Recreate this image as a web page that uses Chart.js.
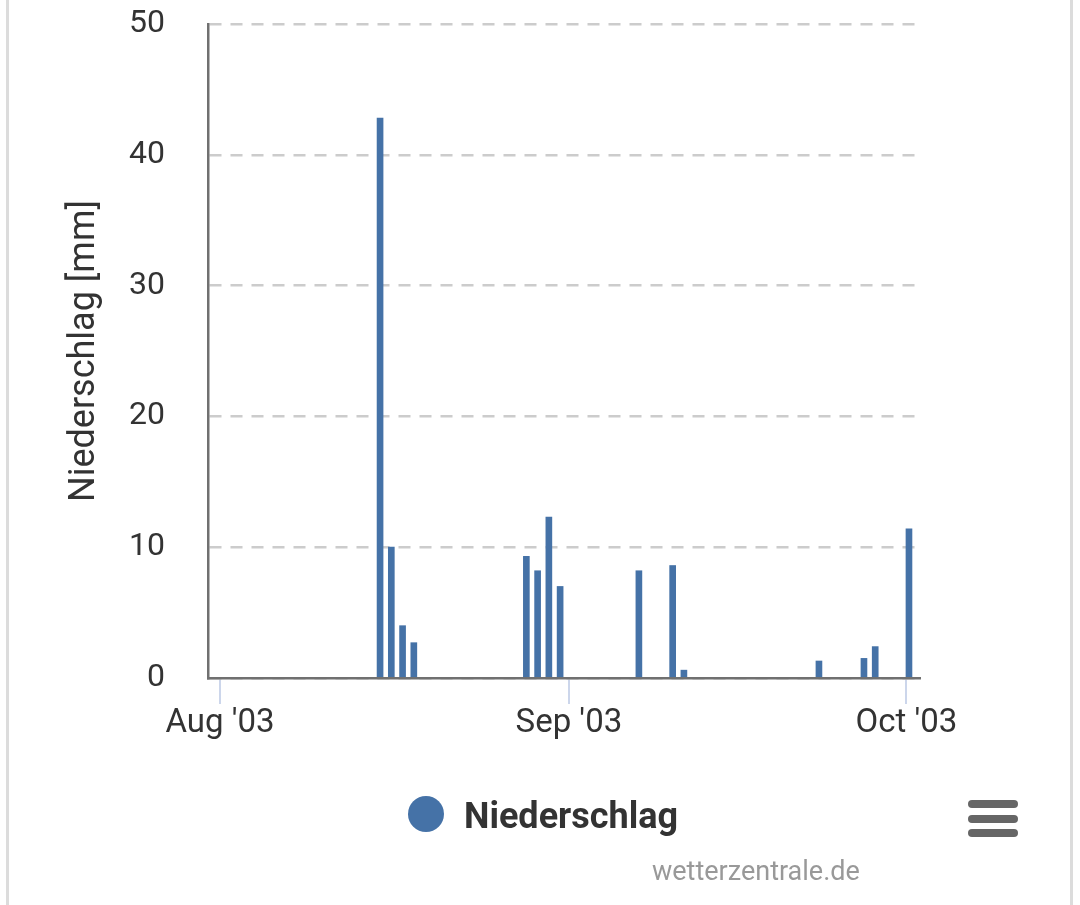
<!DOCTYPE html>
<html>
<head>
<meta charset="utf-8">
<script src="https://cdn.jsdelivr.net/npm/chart.js@4"></script>
<style>
  html, body { margin: 0; padding: 0; background: #fff; }
  body { width: 1080px; height: 905px; position: relative; overflow: hidden; font-family: Roboto, sans-serif; }
  #chart { position: absolute; left: 0; top: 0; }
  .edge { position: absolute; top: 0; width: 3px; height: 905px; background: #dcdcdc; }
  .legend-dot { position: absolute; left: 408px; top: 796px; width: 36px; height: 36px; border-radius: 50%; background: #4572a7; }
  .legend-text { position: absolute; left: 464px; top: 798px; font-size: 36px; line-height: 36px; font-weight: bold; color: #333; }
  .menu span { position: absolute; left: 968px; width: 50px; height: 8px; border-radius: 4px; background: #666; }
  .credits { position: absolute; left: 652px; top: 858px; font-size: 27px; line-height: 26px; color: #999; }
</style>
</head>
<body>
<div class="edge" style="left:6px"></div>
<div class="edge" style="left:1070px"></div>
<canvas id="chart" width="1080" height="905"></canvas>
<div class="legend-dot"></div>
<div class="legend-text">Niederschlag</div>
<div class="menu"><span style="top:800px"></span><span style="top:815px"></span><span style="top:829px"></span></div>
<div class="credits">wetterzentrale.de</div>
<script>
// daily precipitation, Aug - Oct 2003
const DAYS = ['2003-08-15', '2003-08-16', '2003-08-17', '2003-08-18',
  '2003-08-28', '2003-08-29', '2003-08-30', '2003-08-31',
  '2003-09-07', '2003-09-10', '2003-09-11',
  '2003-09-23', '2003-09-27', '2003-09-28', '2003-10-01'];
const RAIN = [42.8, 10.0, 4.0, 2.7, 9.3, 8.2, 12.3, 7.0, 8.2, 8.6, 0.6, 1.3, 1.5, 2.4, 11.4];

const MONTH_TICKS = ['2003-08-01', '2003-09-01', '2003-10-01'];
const MONTH_LABELS = ["Aug '03", "Sep '03", "Oct '03"];
const Y_TICKS = [0, 10, 20, 30, 40, 50];

// x axis runs in days counted from Aug 1
const DAY_MS = 86400000;
const ORIGIN = Date.UTC(2003, 7, 1);
const toDay = s => (Date.parse(s + 'T00:00:00Z') - ORIGIN) / DAY_MS;
const BAR_SHIFT = 0.22; // readings are stamped a few hours after midnight

const points = DAYS.map((d, i) => ({ x: toDay(d) + BAR_SHIFT, y: RAIN[i] }));
const monthValues = MONTH_TICKS.map(toDay);

Chart.defaults.font.family = "Roboto, sans-serif";
Chart.defaults.color = "#333";

new Chart(document.getElementById('chart'), {
  type: 'bar',
  data: {
    datasets: [{
      label: 'Niederschlag',
      data: points,
      backgroundColor: '#4572a7',
      barThickness: 6,
    }],
  },
  options: {
    responsive: false,
    animation: false,
    devicePixelRatio: 1,
    layout: { padding: { top: 24, right: 160, left: 0, bottom: 0 } },
    plugins: { legend: { display: false }, tooltip: { enabled: false } },
    scales: {
      x: {
        type: 'linear',
        offset: false,
        min: -1.07,
        max: 62.2,
        afterFit(scale) { scale.height = 227; },
        afterBuildTicks(scale) { scale.ticks = monthValues.map(v => ({ value: v })); },
        ticks: {
          autoSkip: false,
          maxRotation: 0,
          padding: 0,
          font: { size: 33 },
          color: '#333',
          callback: v => MONTH_LABELS[monthValues.indexOf(v)] ?? '',
        },
        grid: {
          display: true,
          offset: false,
          drawOnChartArea: false,
          drawTicks: true,
          tickLength: 26,
          color: '#ccd6eb',
          lineWidth: 2,
        },
        border: { display: true, color: '#707070', width: 2.5 },
      },
      y: {
        min: 0,
        max: 50,
        afterFit(scale) { scale.width = 208; },
        afterBuildTicks(scale) { scale.ticks = Y_TICKS.map(v => ({ value: v })); },
        ticks: { padding: 0, font: { size: 32 }, color: '#333' },
        grid: {
          color: '#cccccc',
          lineWidth: 2.5,
          drawTicks: true,
          tickLength: 43,
          tickColor: 'rgba(0,0,0,0)',
        },
        border: { display: true, color: '#707070', width: 2.5, dash: [12, 9] },
        title: {
          display: true,
          text: 'Niederschlag [mm]',
          font: { size: 36 },
          color: '#333',
          padding: { top: 63, bottom: 0 },
        },
      },
    },
  },
});
</script>
</body>
</html>
